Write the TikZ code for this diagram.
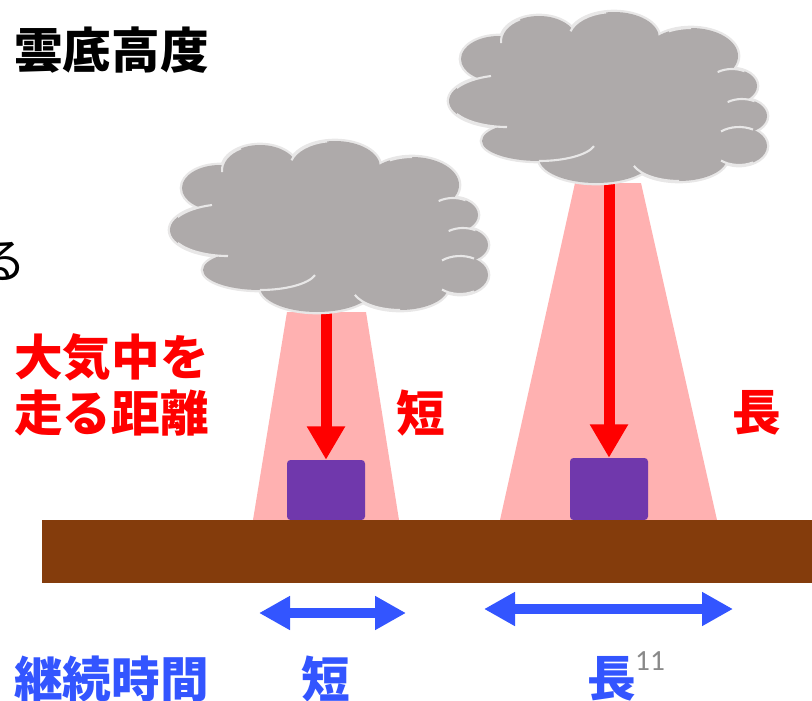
\documentclass[tikz,border=0pt]{standalone}
\usepackage{fontspec}
\setmainfont{Noto Sans CJK JP}
\newfontfamily\digits{Carlito}
\usepackage{tikz}
\usetikzlibrary{arrows.meta, positioning}

\definecolor{cloudgray}{HTML}{AEAAAA}
\definecolor{cloudrim}{HTML}{E8E7E7}
\definecolor{beampink}{HTML}{FFB1B1}
\definecolor{sensorpurple}{HTML}{7038AC}
\definecolor{groundbrown}{HTML}{843C0C}
\definecolor{durblue}{HTML}{3355FF}
\definecolor{notegray}{HTML}{898989}

% puffs of one cloud: centre x / centre y / x radius / y radius
\newcommand\puffs{-65/-142/38/25, 10/-145/45/26, 87/-127/47/28,
  -105/-124/38/23, -97/-82/58/26, -65/-42/57/20, -8/-25/57/25,
  75/-25/48/23, 135/-37/28/19, 138/-67/25/17, 128/-97/25/17,
  5/-85/110/60, 95/-60/45/35}
% inner creases: centre x / centre y / x radius / y radius / from / to
\newcommand\creases{-97/-82/58/26/-150/-106, -97/-82/58/26/150/90,
  -65/-42/57/20/90/15, 75/-25/48/23/90/160, 135/-37/28/19/60/130,
  135/-37/28/19/-60/-130, 138/-67/25/17/-60/-125, 128/-97/25/17/-60/-125,
  87/-127/47/28/-90/-118, 10/-145/45/26/-100/-165, -65/-142/38/25/-120/-185}

\begin{document}
\begin{tikzpicture}[x=0.03cm, y=-0.03cm,
    big/.style={font=\fontsize{41.5}{48}\selectfont\bfseries, inner sep=0pt},
    beam/.style={fill=beampink},
    ray/.style={draw=red, line width=0.33cm, -{Triangle[length=1cm, width=1.08cm]}},
    sensor/.style={rectangle, fill=sensorpurple, rounded corners=3pt, minimum width=2.34cm, minimum height=1.8cm, inner sep=0pt},
    duration/.style={draw=durblue, line width=0.3cm, {Triangle[length=0.93cm, width=0.96cm]}-{Triangle[length=0.93cm, width=0.96cm]}},
    lobe/.style={draw=cloudrim, line width=4pt},
    crease/.style={draw=cloudrim, line width=1.8pt}]
    \clip (0,0) rectangle (812,701);

    % light beams below the cloud bases
    \fill[beam] (287,312) -- (366,312) -- (399,520) -- (253,520) -- cycle;
    \fill[beam] (575,183) -- (641,183) -- (717,520) -- (500,520) -- cycle;

    \coordinate (LowBase) at (326,305);
    \coordinate (HighBase) at (609,176);
    \node (LowSensor) [sensor] at (326,490) {};
    \node (HighSensor) [sensor, minimum height=1.86cm] at (609,489) {};

    \draw[ray] (LowBase) -- (LowSensor.north);
    \draw[ray] (HighBase) -- (HighSensor.north);

    % clouds
    \foreach \ox/\oy in {325/312, 604/183} {
        \begin{scope}[shift={(\ox,\oy)}]
            \foreach \cx/\cy/\rx/\ry in \puffs
                \draw[lobe] (\cx,\cy) ellipse [x radius=\rx, y radius=\ry];
            \foreach \cx/\cy/\rx/\ry in \puffs
                \fill[cloudgray] (\cx,\cy) ellipse [x radius=\rx, y radius=\ry];
            \foreach \cx/\cy/\rx/\ry/\a/\b in \creases
                \draw[crease] (\cx,\cy) ++({\rx*cos(\a)},{\ry*sin(\a)})
                    arc [start angle=\a, end angle=\b, x radius=\rx, y radius=\ry];
        \end{scope}
    }

    % ground
    \fill[groundbrown] (42,520) rectangle (812,583);

    \node (Title) [big, anchor=west] at (14,50) {雲底高度};
    \node (Cut) [font=\fontsize{41}{48}\selectfont, inner sep=0pt] at (3,261) {る};
    \node (Path) [big, text=red, anchor=west, align=left] at (14,385) {大気中を\\走る距離};
    \node (PathShort) [big, text=red] at (421,413) {短};
    \node (PathLong) [big, text=red] at (757,413) {長};

    \coordinate (ShortL) at (259,613);
    \coordinate (ShortR) at (406,613);
    \coordinate (LongL) at (484,609);
    \coordinate (LongR) at (733,609);
    \draw[duration] (ShortL) -- (ShortR);
    \draw[duration] (LongL) -- (LongR);

    \node (Duration) [big, text=durblue, anchor=west] at (14,679) {継続時間};
    \node (DurShort) [big, text=durblue] at (326,679) {短};
    \node (DurLong) [big, text=durblue] at (612,679) {長};
    \node (PageNo) [font=\digits\fontsize{25}{30}\selectfont, text=notegray, inner sep=0pt] at (650,661) {11};
\end{tikzpicture}
\end{document}
